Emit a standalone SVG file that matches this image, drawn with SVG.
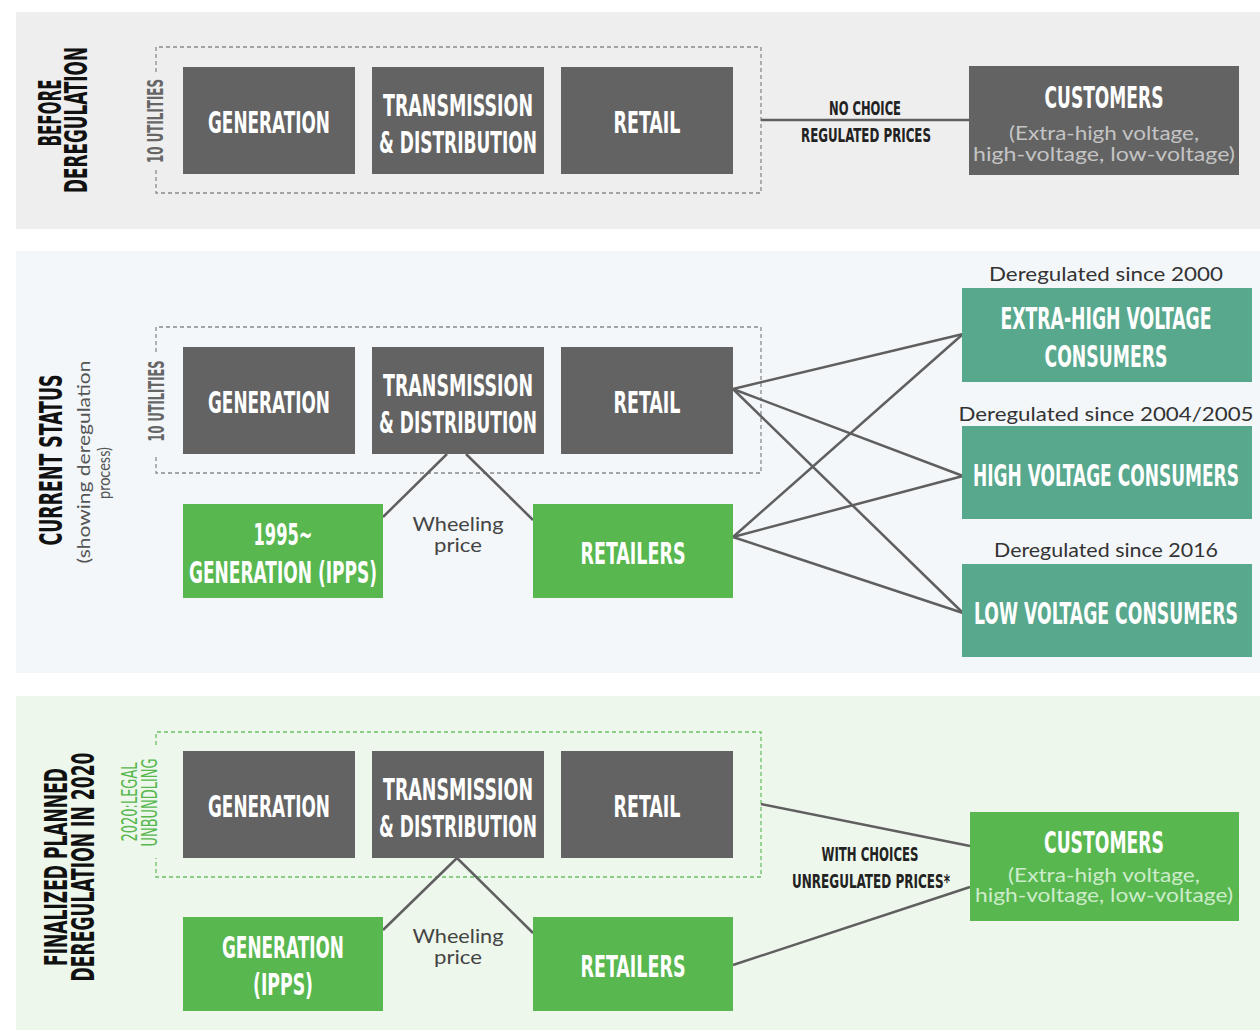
<svg xmlns="http://www.w3.org/2000/svg" width="1260" height="1030" viewBox="0 0 1260 1030">
<style>
.cond{font-family:"Liberation Sans Narrow","DejaVu Sans Condensed","Liberation Sans",sans-serif;font-weight:bold}
.big{font-size:31px;fill:#ffffff}
.sec{font-size:32px;fill:#111111}
.small{font-size:20px;fill:#222222}
.util{font-size:21px;fill:#666666}
.legal{font-size:22px;fill:#58b74f;font-weight:normal}
.light{font-family:Lato,"Open Sans","Liberation Sans",sans-serif;font-weight:normal}
.lab{font-size:20px;fill:#444444}
.sub{font-size:19px;fill:#333333}
.dark{fill:#636363}
.green{fill:#58b74f}
.teal{fill:#58a88e}
.dash{fill:none;stroke:#8a8a8a;stroke-width:1.3;stroke-dasharray:4 3}
.dashg{fill:none;stroke:#6cc063;stroke-width:1.3;stroke-dasharray:4 3}
.conn line{stroke:#5f5f5f;stroke-width:2.5}
</style>

<!-- section backgrounds -->
<rect x="16" y="12" width="1244" height="217" fill="#eeeeee"/>
<rect x="16" y="251" width="1244" height="422" fill="#f3f7fa"/>
<rect x="16" y="696" width="1244" height="334" fill="#edf7ec"/>

<!-- section labels -->
<g id="label-before">
<text class="cond sec" text-anchor="middle" transform="translate(61,113) rotate(-90)" textLength="67" lengthAdjust="spacingAndGlyphs">BEFORE</text>
<text class="cond sec" text-anchor="middle" transform="translate(87,120) rotate(-90)" textLength="146" lengthAdjust="spacingAndGlyphs">DEREGULATION</text>
</g>
<g id="label-current">
<text class="cond sec" text-anchor="middle" transform="translate(62,460) rotate(-90)" textLength="171" lengthAdjust="spacingAndGlyphs">CURRENT STATUS</text>
<text class="light" font-size="18" fill="#555555" text-anchor="middle" transform="translate(90,462) rotate(-90)" textLength="203" lengthAdjust="spacingAndGlyphs">(showing deregulation</text>
<text class="light" font-size="18" fill="#555555" text-anchor="middle" transform="translate(109.5,473) rotate(-90)" textLength="52" lengthAdjust="spacingAndGlyphs">process)</text>
</g>
<g id="label-final">
<text class="cond sec" text-anchor="middle" transform="translate(67,867) rotate(-90)" textLength="198" lengthAdjust="spacingAndGlyphs">FINALIZED PLANNED</text>
<text class="cond sec" text-anchor="middle" transform="translate(94,867) rotate(-90)" textLength="229" lengthAdjust="spacingAndGlyphs">DEREGULATION IN 2020</text>
</g>

<!-- utility groupings -->
<g id="utilities-1">
<path class="dash" d="M156,72 V47 H761 V193 H156 V168"/>
<text class="cond util" font-weight="normal" text-anchor="middle" transform="translate(163,121) rotate(-90)" textLength="84" lengthAdjust="spacingAndGlyphs">10 UTILITIES</text>
</g>
<g id="utilities-2">
<path class="dash" d="M156,352 V327 H761 V473 H156 V457"/>
<text class="cond util" fill="#555555" text-anchor="middle" transform="translate(164,401) rotate(-90)" textLength="81" lengthAdjust="spacingAndGlyphs">10 UTILITIES</text>
</g>
<g id="unbundling-3">
<path class="dashg" d="M156,745 V732 H761 V877 H156 V858"/>
<text class="cond legal" text-anchor="middle" transform="translate(137,802) rotate(-90)" textLength="79" lengthAdjust="spacingAndGlyphs">2020:LEGAL</text>
<text class="cond legal" text-anchor="middle" transform="translate(157,802.5) rotate(-90)" textLength="88" lengthAdjust="spacingAndGlyphs">UNBUNDLING</text>
</g>

<!-- connectors -->
<g id="connectors" class="conn">
<line x1="761" y1="120" x2="969" y2="120"/>
<line x1="447" y1="454" x2="383" y2="517"/>
<line x1="466" y1="454" x2="533" y2="520"/>
<line x1="733" y1="389" x2="963" y2="334"/>
<line x1="733" y1="389" x2="963" y2="476"/>
<line x1="733" y1="389" x2="963" y2="613"/>
<line x1="733" y1="537" x2="963" y2="334"/>
<line x1="733" y1="537" x2="963" y2="476"/>
<line x1="733" y1="537" x2="963" y2="613"/>
<line x1="457" y1="858" x2="383" y2="930"/>
<line x1="457" y1="858" x2="533" y2="933"/>
<line x1="761" y1="804" x2="970" y2="846"/>
<line x1="733" y1="965" x2="970" y2="887"/>
</g>

<!-- connector labels -->
<g id="connector-labels">
<text class="cond small" text-anchor="middle" x="865" y="115" textLength="72" lengthAdjust="spacingAndGlyphs">NO CHOICE</text>
<text class="cond small" text-anchor="middle" x="866" y="142" textLength="130" lengthAdjust="spacingAndGlyphs">REGULATED PRICES</text>
<text class="light lab" text-anchor="middle" x="458" y="531" textLength="91" lengthAdjust="spacingAndGlyphs">Wheeling</text>
<text class="light lab" text-anchor="middle" x="458" y="552" textLength="48" lengthAdjust="spacingAndGlyphs">price</text>
<text class="light lab" text-anchor="middle" x="458" y="943" textLength="91" lengthAdjust="spacingAndGlyphs">Wheeling</text>
<text class="light lab" text-anchor="middle" x="458" y="964" textLength="48" lengthAdjust="spacingAndGlyphs">price</text>
<text class="cond small" text-anchor="middle" x="870" y="861" textLength="97" lengthAdjust="spacingAndGlyphs">WITH CHOICES</text>
<text class="cond small" text-anchor="middle" x="871" y="888" textLength="158" lengthAdjust="spacingAndGlyphs">UNREGULATED PRICES*</text>
</g>

<!-- section 1 nodes -->
<g id="gen-1"><rect class="dark" x="183" y="67" width="172" height="107"/>
<text class="cond big" text-anchor="middle" x="269" y="133" textLength="122" lengthAdjust="spacingAndGlyphs">GENERATION</text></g>
<g id="td-1"><rect class="dark" x="372" y="67" width="172" height="107"/>
<text class="cond big" text-anchor="middle" x="458" y="116" textLength="150" lengthAdjust="spacingAndGlyphs">TRANSMISSION</text>
<text class="cond big" text-anchor="middle" x="458" y="153" textLength="158" lengthAdjust="spacingAndGlyphs">&amp; DISTRIBUTION</text></g>
<g id="retail-1"><rect class="dark" x="561" y="67" width="172" height="107"/>
<text class="cond big" text-anchor="middle" x="647" y="133" textLength="67" lengthAdjust="spacingAndGlyphs">RETAIL</text></g>
<g id="customers-1"><rect class="dark" x="969" y="66" width="270" height="109"/>
<text class="cond big" text-anchor="middle" x="1104" y="108" textLength="119" lengthAdjust="spacingAndGlyphs">CUSTOMERS</text>
<text class="light" font-size="19" fill="#c4c4c4" text-anchor="middle" x="1104" y="140" textLength="190" lengthAdjust="spacingAndGlyphs">(Extra-high voltage,</text>
<text class="light" font-size="19" fill="#c4c4c4" text-anchor="middle" x="1104" y="161" textLength="262" lengthAdjust="spacingAndGlyphs">high-voltage, low-voltage)</text></g>

<!-- section 2 nodes -->
<g id="gen-2"><rect class="dark" x="183" y="347" width="172" height="107"/>
<text class="cond big" text-anchor="middle" x="269" y="413" textLength="122" lengthAdjust="spacingAndGlyphs">GENERATION</text></g>
<g id="td-2"><rect class="dark" x="372" y="347" width="172" height="107"/>
<text class="cond big" text-anchor="middle" x="458" y="396" textLength="150" lengthAdjust="spacingAndGlyphs">TRANSMISSION</text>
<text class="cond big" text-anchor="middle" x="458" y="433" textLength="158" lengthAdjust="spacingAndGlyphs">&amp; DISTRIBUTION</text></g>
<g id="retail-2"><rect class="dark" x="561" y="347" width="172" height="107"/>
<text class="cond big" text-anchor="middle" x="647" y="413" textLength="67" lengthAdjust="spacingAndGlyphs">RETAIL</text></g>
<g id="ipps-2"><rect class="green" x="183" y="504" width="200" height="94"/>
<text class="cond big" text-anchor="middle" x="283" y="545" textLength="59" lengthAdjust="spacingAndGlyphs">1995~</text>
<text class="cond big" text-anchor="middle" x="283" y="583" textLength="188" lengthAdjust="spacingAndGlyphs">GENERATION (IPPS)</text></g>
<g id="retailers-2"><rect class="green" x="533" y="504" width="200" height="94"/>
<text class="cond big" text-anchor="middle" x="633" y="564" textLength="105" lengthAdjust="spacingAndGlyphs">RETAILERS</text></g>
<g id="ehv"><rect class="teal" x="962" y="288" width="290" height="94"/>
<text class="light sub" text-anchor="middle" x="1106" y="281" textLength="234" lengthAdjust="spacingAndGlyphs">Deregulated since 2000</text>
<text class="cond big" text-anchor="middle" x="1106" y="329" textLength="211" lengthAdjust="spacingAndGlyphs">EXTRA-HIGH VOLTAGE</text>
<text class="cond big" text-anchor="middle" x="1106" y="367" textLength="123" lengthAdjust="spacingAndGlyphs">CONSUMERS</text></g>
<g id="hv"><rect class="teal" x="962" y="426" width="290" height="93"/>
<text class="light sub" text-anchor="middle" x="1106" y="421" textLength="295" lengthAdjust="spacingAndGlyphs">Deregulated since 2004/2005</text>
<text class="cond big" text-anchor="middle" x="1106" y="486" textLength="266" lengthAdjust="spacingAndGlyphs">HIGH VOLTAGE CONSUMERS</text></g>
<g id="lv"><rect class="teal" x="962" y="564" width="290" height="93"/>
<text class="light sub" text-anchor="middle" x="1106" y="557" textLength="224" lengthAdjust="spacingAndGlyphs">Deregulated since 2016</text>
<text class="cond big" text-anchor="middle" x="1106" y="624" textLength="264" lengthAdjust="spacingAndGlyphs">LOW VOLTAGE CONSUMERS</text></g>

<!-- section 3 nodes -->
<g id="gen-3"><rect class="dark" x="183" y="751" width="172" height="107"/>
<text class="cond big" text-anchor="middle" x="269" y="817" textLength="122" lengthAdjust="spacingAndGlyphs">GENERATION</text></g>
<g id="td-3"><rect class="dark" x="372" y="751" width="172" height="107"/>
<text class="cond big" text-anchor="middle" x="458" y="800" textLength="150" lengthAdjust="spacingAndGlyphs">TRANSMISSION</text>
<text class="cond big" text-anchor="middle" x="458" y="837" textLength="158" lengthAdjust="spacingAndGlyphs">&amp; DISTRIBUTION</text></g>
<g id="retail-3"><rect class="dark" x="561" y="751" width="172" height="107"/>
<text class="cond big" text-anchor="middle" x="647" y="817" textLength="67" lengthAdjust="spacingAndGlyphs">RETAIL</text></g>
<g id="ipps-3"><rect class="green" x="183" y="917" width="200" height="94"/>
<text class="cond big" text-anchor="middle" x="283" y="958" textLength="122" lengthAdjust="spacingAndGlyphs">GENERATION</text>
<text class="cond big" text-anchor="middle" x="283" y="995" textLength="60" lengthAdjust="spacingAndGlyphs">(IPPS)</text></g>
<g id="retailers-3"><rect class="green" x="533" y="917" width="200" height="94"/>
<text class="cond big" text-anchor="middle" x="633" y="977" textLength="105" lengthAdjust="spacingAndGlyphs">RETAILERS</text></g>
<g id="customers-3"><rect class="green" x="970" y="812" width="269" height="109"/>
<text class="cond big" text-anchor="middle" x="1104" y="853" textLength="120" lengthAdjust="spacingAndGlyphs">CUSTOMERS</text>
<text class="light" font-size="19" fill="#cdeccb" text-anchor="middle" x="1104" y="882" textLength="192" lengthAdjust="spacingAndGlyphs">(Extra-high voltage,</text>
<text class="light" font-size="19" fill="#cdeccb" text-anchor="middle" x="1104" y="902" textLength="258" lengthAdjust="spacingAndGlyphs">high-voltage, low-voltage)</text></g>
</svg>
